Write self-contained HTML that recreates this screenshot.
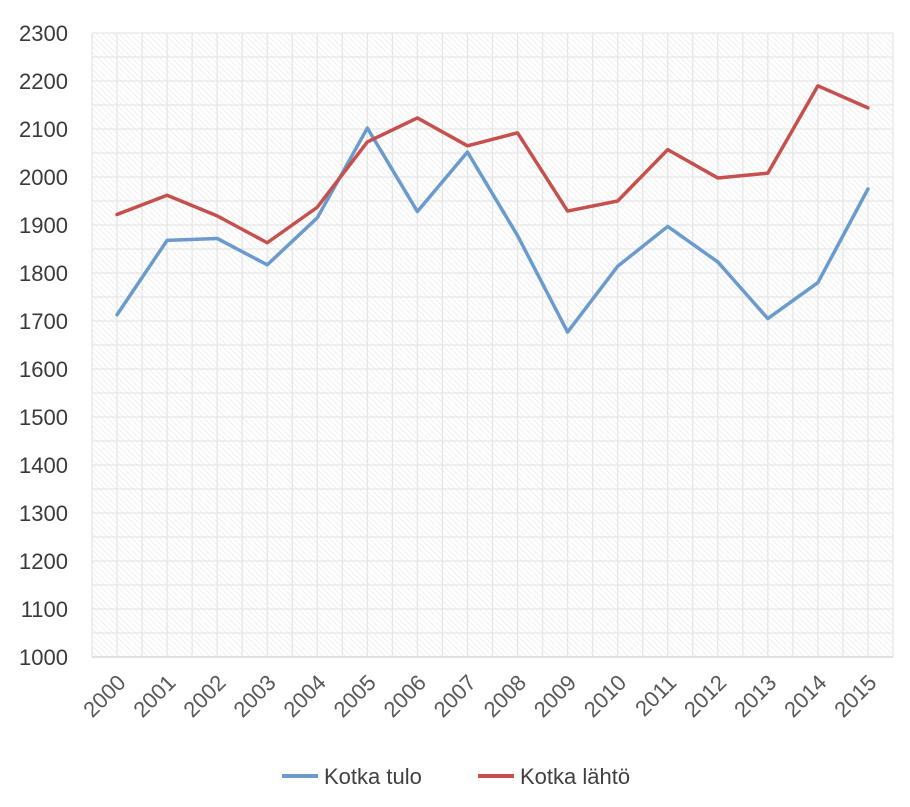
<!DOCTYPE html>
<html><head><meta charset="utf-8"><style>
body{margin:0;background:#fff;font-family:"Liberation Sans",sans-serif;}
</style></head><body>
<svg id="chart" width="910" height="802" xmlns="http://www.w3.org/2000/svg">
<defs>
<pattern id="hatch" width="4" height="4" patternUnits="userSpaceOnUse" patternTransform="rotate(-45)">
<rect width="4" height="4" fill="#fff"/><line x1="0" y1="0" x2="0" y2="4" stroke="#e6e6e6" stroke-width="1.2"/>
</pattern>
</defs>
<rect x="92" y="33" width="801" height="624" fill="url(#hatch)"/>
<g id="grid"></g><g id="axes"></g><g id="series"></g>
<g>
<line x1="282" y1="776" x2="318" y2="776" stroke="#6a9bcc" stroke-width="4"/>
<text x="324" y="784" font-size="22" fill="#404040">Kotka tulo</text>
<line x1="478" y1="776" x2="514" y2="776" stroke="#c5504d" stroke-width="4"/>
<text x="520" y="784" font-size="22" fill="#404040">Kotka lähtö</text>
</g>
</svg>
<script>
const categories=["2000","2001","2002","2003","2004","2005","2006","2007","2008","2009","2010","2011","2012","2013","2014","2015"];
const tulo=[1713,1868,1872,1817,1915,2102,1928,2052,1878,1677,1814,1897,1823,1705,1780,1975];
const lahto=[1922,1962,1919,1863,1937,2073,2123,2065,2092,1929,1950,2057,1998,2008,2190,2144];
const yTicks=[1000,1100,1200,1300,1400,1500,1600,1700,1800,1900,2000,2100,2200,2300];
const NS="http://www.w3.org/2000/svg";
const L=92,R=893,T=33,B=657,ymin=1000,ymax=2300;
const bw=(R-L)/categories.length;
const x=i=>L+bw*(i+0.5);
const y=v=>B-(v-ymin)/(ymax-ymin)*(B-T);
function mk(tag,attrs,parent){const e=document.createElementNS(NS,tag);for(const k in attrs)e.setAttribute(k,attrs[k]);parent.appendChild(e);return e;}
const grid=document.getElementById('grid'),axes=document.getElementById('axes'),ser=document.getElementById('series');
for(let v=ymin;v<=ymax;v+=50){const l=mk('line',{x1:L,x2:R,y1:y(v),y2:y(v),stroke:'#e6e6e6','stroke-width':1.3},grid);

}
for(let k=0;k<=categories.length*2;k++){const xx=L+k*bw/2;const l=mk('line',{x1:xx,x2:xx,y1:T,y2:B,stroke:'#e6e6e6','stroke-width':1.3},grid);

}
const ax=mk('line',{x1:L,x2:R,y1:B,y2:B,stroke:'#d9d9d9','stroke-width':1.5},axes);


yTicks.forEach(v=>{const t=mk('text',{x:68,y:y(v)+8,'font-size':22,fill:'#3a3a3a','text-anchor':'end'},axes);t.textContent=v;

});
categories.forEach((c,i)=>{const xx=x(i)+10,yy=B+27;const t=mk('text',{x:xx,y:yy,'font-size':22,fill:'#595959','text-anchor':'end',transform:`rotate(-45 ${xx} ${yy})`},axes);t.textContent=c;

});
function line(arr,color,name){const p=mk('polyline',{points:arr.map((v,i)=>x(i)+','+y(v)).join(' '),fill:'none',stroke:color,'stroke-width':3.5,'stroke-linejoin':'round','stroke-linecap':'round'},ser);

}
line(tulo,'#6a9bcc','series-kotka-tulo');
line(lahto,'#c5504d','series-kotka-lahto');
</script>
</body></html>
